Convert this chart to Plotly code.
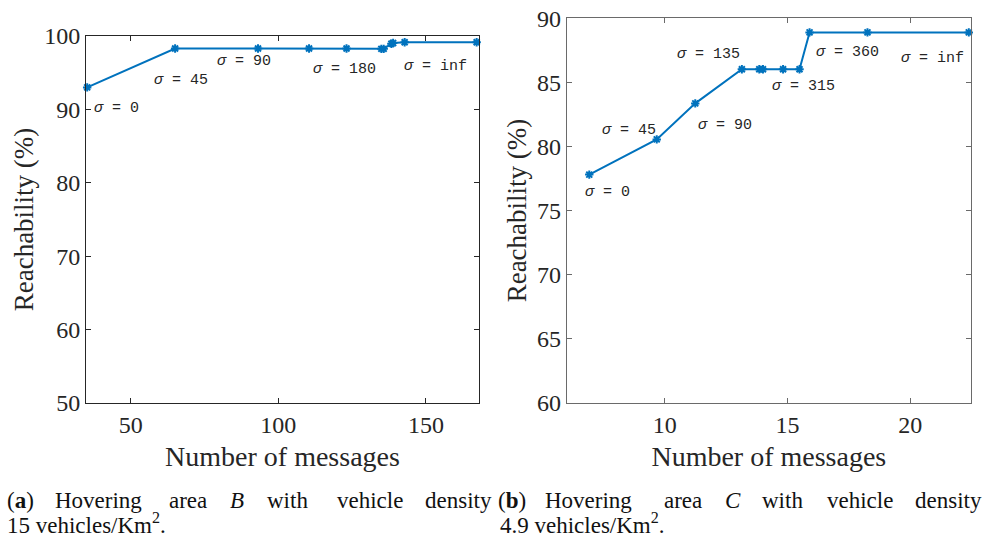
import plotly.graph_objects as go

# ---- data ----
left_msgs = [35.2, 65.0, 93.1, 110.4, 123.1, 134.9, 135.7, 138.3, 138.9, 142.8, 167.2]
left_reach = [93.0, 98.3, 98.3, 98.3, 98.3, 98.25, 98.25, 98.95, 99.05, 99.15, 99.15]
left_labels = ["<i>σ</i> = 0", "<i>σ</i> = 45", "<i>σ</i> = 90", "<i>σ</i> = 180", "<i>σ</i> = inf"]
left_label_x = [36.8, 57.1, 78.5, 111.0, 141.9]
left_label_y = [90.1, 93.9, 96.5, 95.5, 95.8]

right_msgs = [6.92, 9.67, 11.24, 13.14, 13.85, 14.0, 14.82, 15.49, 15.9, 18.26, 22.39]
right_reach = [77.8, 80.55, 83.36, 86.02, 86.02, 86.02, 86.02, 86.02, 88.9, 88.9, 88.9]
right_labels = ["<i>σ</i> = 0", "<i>σ</i> = 45", "<i>σ</i> = 90", "<i>σ</i> = 135",
                "<i>σ</i> = 315", "<i>σ</i> = 360", "<i>σ</i> = inf"]
right_label_x = [6.65, 7.36, 11.28, 10.42, 14.27, 16.07, 19.53]
right_label_y = [76.39, 81.23, 81.67, 87.19, 84.66, 87.35, 86.88]

left_xticks = [50, 100, 150]
left_yticks = [50, 60, 70, 80, 90, 100]
right_xticks = [10, 15, 20]
right_yticks = [60, 65, 70, 75, 80, 85, 90]

W, H = 987, 537
LINE = "#0072BD"
SERIF = "Liberation Serif"
MONO = "Liberation Mono"

fig = go.Figure()
for xs, ys, xa, ya in [(left_msgs, left_reach, "x", "y"), (right_msgs, right_reach, "x2", "y2")]:
    fig.add_trace(go.Scatter(
        x=xs, y=ys, xaxis=xa, yaxis=ya, mode="lines+markers",
        line=dict(color=LINE, width=2),
        marker=dict(symbol="asterisk-open", size=7, color=LINE, line=dict(color=LINE, width=2)),
        showlegend=False, cliponaxis=False,
    ))

def px_x(p):
    return p / W

def px_y(p):
    return 1 - p / H

def axis_common(color):
    return dict(
        showgrid=False, zeroline=False, showline=True, linecolor=color, linewidth=1,
        mirror="ticks", ticks="inside", ticklen=5, tickcolor=color, tickwidth=1,
        tickfont=dict(family=SERIF, size=24, color="#262626"),
        automargin=False,
    )

XT = dict(family=SERIF, size=28, color="#262626")
YT = dict(family=SERIF, size=27, color="#262626")

fig.update_layout(
    width=W, height=H, margin=dict(l=0, r=0, t=0, b=0, autoexpand=False),
    paper_bgcolor="white", plot_bgcolor="white",
    xaxis=dict(domain=[px_x(86), px_x(479)], range=[34.8, 168], tickvals=left_xticks,
               anchor="y", title=dict(text="Number of messages", standoff=9, font=XT),
               **axis_common("#262626")),
    yaxis=dict(domain=[px_y(403), px_y(36)], range=[50, 100], tickvals=left_yticks,
               anchor="x", title=dict(text="Reachability (%)", standoff=2, font=YT),
               **axis_common("#262626")),
    xaxis2=dict(domain=[px_x(566.7), px_x(971)], range=[6.0, 22.48], tickvals=right_xticks,
                anchor="y2", title=dict(text="Number of messages", standoff=9, font=XT),
                **axis_common("#6a6a6a")),
    yaxis2=dict(domain=[px_y(402.7), px_y(18.3)], range=[60, 90], tickvals=right_yticks,
                anchor="x2", title=dict(text="Reachability (%)", standoff=2, font=YT),
                **axis_common("#6a6a6a")),
)

ann = []
for t, x, y in zip(left_labels, left_label_x, left_label_y):
    ann.append(dict(text=t, x=x, y=y, xref="x", yref="y", xanchor="left", yanchor="middle",
                    showarrow=False, font=dict(family=MONO, size=15, color="#262626")))
for t, x, y in zip(right_labels, right_label_x, right_label_y):
    ann.append(dict(text=t, x=x, y=y, xref="x2", yref="y2", xanchor="left", yanchor="middle",
                    showarrow=False, font=dict(family=MONO, size=15, color="#262626")))

# captions (justified line 1 -> individual words)
cap_words = [
    ("(<b>a</b>)", 5), ("Hovering", 53), ("area", 167), ("<i>B</i>", 228), ("with", 265),
    ("vehicle", 335), ("density", 423),
    ("(<b>b</b>)", 496), ("Hovering", 543), ("area", 662), ("<i>C</i>", 723), ("with", 760),
    ("vehicle", 825), ("density", 913),
]
for t, x in cap_words:
    ann.append(dict(text=t, x=px_x(x), y=px_y(500), xref="paper", yref="paper",
                    xanchor="left", yanchor="middle", showarrow=False,
                    font=dict(family=SERIF, size=23, color="#111111")))
for t, x in [("15 vehicles/Km<sup>2</sup>.", 5), ("4.9 vehicles/Km<sup>2</sup>.", 498)]:
    ann.append(dict(text=t, x=px_x(x), y=px_y(523), xref="paper", yref="paper",
                    xanchor="left", yanchor="middle", showarrow=False,
                    font=dict(family=SERIF, size=23, color="#111111")))

fig.update_layout(annotations=ann)
fig.write_html(
    "out.html",
    config={"displayModeBar": False},
    post_script="document.body.style.margin='0px';document.body.style.overflow='hidden';",
)
